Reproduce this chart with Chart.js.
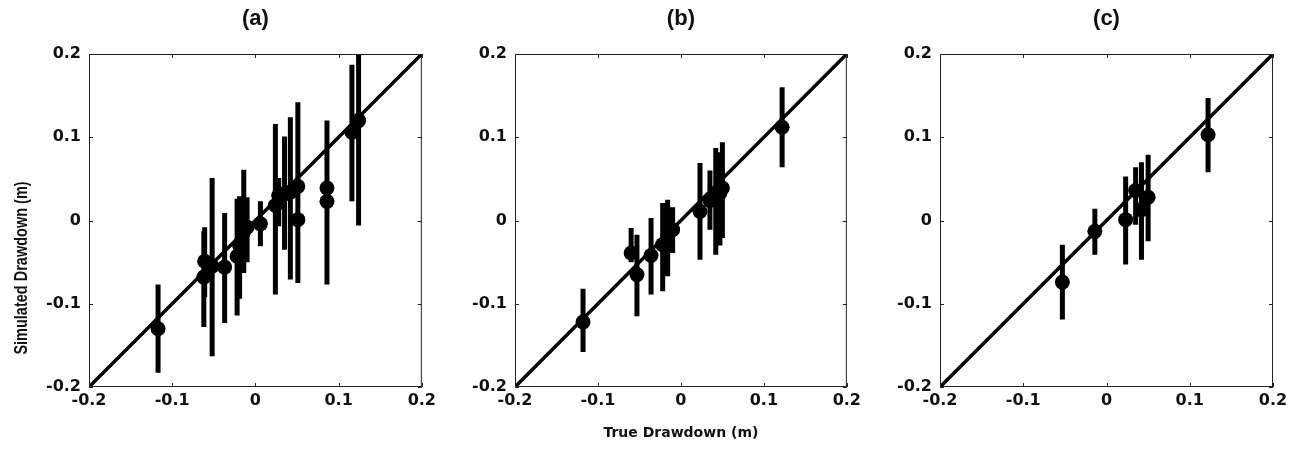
<!DOCTYPE html>
<html>
<head>
<meta charset="utf-8">
<script src="https://cdn.jsdelivr.net/npm/chart.js@4/dist/chart.umd.min.js"></script>
<style>
  html, body { margin: 0; padding: 0; background: #ffffff; }
  #wrap { position: relative; width: 1297px; height: 451px; overflow: hidden; }
  canvas { position: absolute; top: 0; }
</style>
</head>
<body>
<div id="wrap">
  <canvas id="pa" width="440" height="451" style="left:0px"></canvas>
  <canvas id="pb" width="440" height="451" style="left:425px"></canvas>
  <canvas id="pc" width="447" height="451" style="left:850px"></canvas>
</div>
<script>
// Axis ticks shared by every panel (metres)
const tickValues = [-0.2, -0.1, 0, 0.1, 0.2];
const tickLabels = ['-0.2', '-0.1', '0', '0.1', '0.2'];
const axisMin = -0.2;
const axisMax = 0.2;

// Panel (a): true vs simulated drawdown with interval bounds
const aTrue = [-0.117, -0.061, -0.062, -0.052, -0.037, -0.022, -0.019, -0.014, -0.010, 0.006, 0.024, 0.028, 0.035, 0.042, 0.051, 0.051, 0.086, 0.086, 0.116, 0.124];
const aSim  = [-0.130, -0.049, -0.068, -0.055, -0.056, -0.043, -0.030, -0.013, -0.008, -0.004, 0.018, 0.030, 0.032, 0.034, 0.041, 0.001, 0.039, 0.023, 0.106, 0.120];
const aLow  = [-0.183, -0.092, -0.128, -0.163, -0.123, -0.114, -0.094, -0.063, -0.050, -0.031, -0.089, -0.007, -0.035, -0.071, -0.075, -0.045, -0.037, -0.077, 0.023, -0.006];
const aHigh = [-0.077, -0.008, -0.013, 0.051, 0.009, 0.026, 0.029, 0.061, 0.028, 0.023, 0.116, 0.051, 0.101, 0.124, 0.142, 0.060, 0.113, 0.120, 0.187, 0.200];

// Panel (b)
const bTrue = [-0.118, -0.060, -0.053, -0.036, -0.022, -0.016, -0.010, 0.023, 0.035, 0.042, 0.047, 0.050, 0.122];
const bSim  = [-0.122, -0.039, -0.065, -0.042, -0.029, -0.021, -0.011, 0.011, 0.024, 0.027, 0.033, 0.039, 0.112];
const bLow  = [-0.158, -0.050, -0.115, -0.089, -0.085, -0.067, -0.039, -0.047, -0.011, -0.041, -0.030, -0.021, 0.064];
const bHigh = [-0.082, -0.009, -0.017, 0.003, 0.021, 0.025, 0.016, 0.069, 0.060, 0.087, 0.082, 0.094, 0.160];

// Panel (c)
const cTrue = [-0.053, -0.014, 0.023, 0.035, 0.042, 0.050, 0.122];
const cSim  = [-0.074, -0.013, 0.001, 0.036, 0.013, 0.028, 0.103];
const cLow  = [-0.119, -0.041, -0.053, -0.005, -0.047, -0.025, 0.058];
const cHigh = [-0.029, 0.014, 0.053, 0.064, 0.070, 0.079, 0.147];

const INK = '#000000';
const TEXT = '#111111';
const ARIAL = '"Liberation Sans", Arial, Helvetica, sans-serif';
const WIDE = '"DejaVu Sans", Verdana, sans-serif';
const tickFont = { family: WIDE, size: 16, weight: 'bold' };

// Box frame with inward tick marks on all four sides
const framePlugin = {
  id: 'frame',
  afterDatasetsDraw(chart) {
    const { ctx, chartArea: ca, scales } = chart;
    const len = 4;
    ctx.save();
    ctx.strokeStyle = '#222222';
    ctx.lineWidth = 1;
    ctx.strokeRect(ca.left + 0.5, ca.top + 0.5, ca.right - ca.left - 1, ca.bottom - ca.top - 1);
    ctx.beginPath();
    tickValues.forEach(v => {
      const px = Math.round(scales.x.getPixelForValue(v)) + 0.5;
      ctx.moveTo(px, ca.bottom); ctx.lineTo(px, ca.bottom - len);
      ctx.moveTo(px, ca.top); ctx.lineTo(px, ca.top + len);
      const py = Math.round(scales.y.getPixelForValue(v)) + 0.5;
      ctx.moveTo(ca.left, py); ctx.lineTo(ca.left + len, py);
      ctx.moveTo(ca.right, py); ctx.lineTo(ca.right - len, py);
    });
    ctx.stroke();
    ctx.restore();
  }
};

// Shared vertical label, drawn on the first panel's canvas
const yLabelPlugin = {
  id: 'sideLabel',
  afterDraw(chart, args, opts) {
    if (!opts.text) return;
    const { ctx } = chart;
    ctx.save();
    ctx.translate(opts.x, opts.y);
    ctx.scale(opts.stretch || 1, 1);
    ctx.rotate(-Math.PI / 2);
    ctx.font = 'bold ' + opts.size + 'px ' + ARIAL;
    ctx.fillStyle = TEXT;
    ctx.textAlign = 'center';
    ctx.textBaseline = 'middle';
    ctx.fillText(opts.text, 0, 0);
    ctx.restore();
  }
};

function intervalSegments(xs, lows, highs) {
  const pts = [];
  xs.forEach((x, i) => {
    pts.push({ x: x, y: lows[i] });
    pts.push({ x: x, y: highs[i] });
    pts.push({ x: x, y: null });
  });
  return pts;
}

function makePanel(id, title, xs, ys, lows, highs, yAxisWidth, padRight, xTitle, sideLabel) {
  const ctx = document.getElementById(id).getContext('2d');
  return new Chart(ctx, {
    type: 'scatter',
    data: {
      datasets: [
        {
          label: '1:1',
          data: [{ x: axisMin, y: axisMin }, { x: axisMax, y: axisMax }],
          showLine: true,
          borderColor: INK,
          borderWidth: 3.5,
          pointRadius: 0,
          clip: 0,
          order: 3
        },
        {
          label: 'interval',
          data: intervalSegments(xs, lows, highs),
          showLine: true,
          spanGaps: false,
          borderColor: INK,
          borderWidth: 5,
          borderCapStyle: 'butt',
          pointRadius: 0,
          clip: 0,
          order: 2
        },
        {
          label: 'estimate',
          data: xs.map((x, i) => ({ x: x, y: ys[i] })),
          backgroundColor: INK,
          borderWidth: 0,
          pointRadius: 7.5,
          pointHoverRadius: 7.5,
          clip: 0,
          order: 1
        }
      ]
    },
    options: {
      responsive: false,
      animation: false,
      devicePixelRatio: 1,
      layout: { padding: { left: 0, right: padRight, top: 0, bottom: 0 } },
      plugins: {
        legend: { display: false },
        tooltip: { enabled: false },
        title: {
          display: true,
          text: title,
          fullSize: false,
          color: TEXT,
          font: { family: ARIAL, size: 22, weight: 'bold', lineHeight: 1.2 },
          padding: { top: 6, bottom: 21.6 }
        },
        sideLabel: sideLabel || {}
      },
      scales: {
        x: {
          type: 'linear',
          min: axisMin,
          max: axisMax,
          grid: { display: false, drawTicks: false },
          border: { display: false },
          ticks: {
            color: TEXT,
            font: tickFont,
            padding: 4,
            autoSkip: false,
            maxRotation: 0,
            callback: v => tickLabels[tickValues.indexOf(v)]
          },
          afterBuildTicks: s => { s.ticks = tickValues.map(v => ({ value: v })); },
          afterFit: s => { s.height = 64; },
          title: {
            display: !!xTitle,
            text: xTitle || '',
            color: TEXT,
            font: { family: WIDE, size: 14, weight: 'bold', lineHeight: 1.2 },
            padding: { top: 0, bottom: 9 }
          }
        },
        y: {
          type: 'linear',
          min: axisMin,
          max: axisMax,
          grid: { display: false, drawTicks: false },
          border: { display: false },
          ticks: {
            color: TEXT,
            font: tickFont,
            padding: 8,
            autoSkip: false,
            callback: v => tickLabels[tickValues.indexOf(v)]
          },
          afterBuildTicks: s => { s.ticks = tickValues.map(v => ({ value: v })); },
          afterFit: s => { s.width = yAxisWidth; }
        }
      }
    },
    plugins: [framePlugin, yLabelPlugin]
  });
}

makePanel('pa', '(a)', aTrue, aSim, aLow, aHigh, 89, 18, null,
  { text: 'Simulated Drawdown (m)', x: 22, y: 268, size: 14.5, stretch: 1.25 });
makePanel('pb', '(b)', bTrue, bSim, bLow, bHigh, 90, 17, 'True Drawdown (m)', null);
makePanel('pc', '(c)', cTrue, cSim, cLow, cHigh, 90, 24, null, null);
</script>
</body>
</html>
